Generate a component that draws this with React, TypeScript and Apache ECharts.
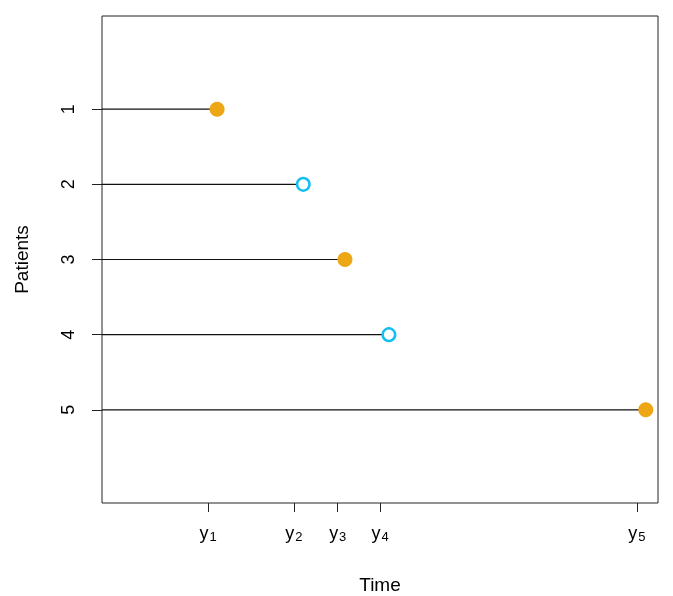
import React, { useEffect, useRef } from "react";
import * as echarts from "echarts";

const patients = [1, 2, 3, 4, 5];
const times = [2.07, 3.62, 4.37, 5.16, 9.78];
const status = [1, 0, 1, 0, 1]; // 1 = event (filled), 0 = censored (open)
const tickPositions = [1.91, 3.45, 4.24, 5.0, 9.62];
const tickSubs = ["1", "2", "3", "4", "5"];

const ORANGE = "#EDA614";
const BLUE = "#12BEF2";
const FONT = "Liberation Sans, Arial, sans-serif";

export default function App() {
  const ref = useRef<HTMLDivElement>(null);
  useEffect(() => {
    if (!ref.current) return;
    const chart = echarts.init(ref.current, null, { renderer: "svg" });
    const eventData = patients
      .map((p, i) => (status[i] === 1 ? [times[i], p] : null))
      .filter((d) => d !== null);
    const censData = patients
      .map((p, i) => (status[i] === 0 ? [times[i], p] : null))
      .filter((d) => d !== null);
    const lineData = patients.map((p, i) => [times[i], p]);
    chart.setOption({
      animation: false,
      textStyle: { fontFamily: FONT },
      grid: {
        left: 102,
        top: 16,
        right: 15,
        bottom: 93,
        outerBoundsMode: "none",
        containLabel: false,
        show: true,
        borderColor: "#222",
        borderWidth: 1,
        backgroundColor: "transparent",
      },
      xAxis: {
        type: "value",
        min: 0,
        max: 10,
        name: "Time",
        nameLocation: "middle",
        nameGap: 72,
        nameTextStyle: { fontSize: 19, color: "#000", fontFamily: FONT },
        axisLine: { show: false, onZero: false },
        splitLine: { show: false },
        axisTick: {
          show: true,
          length: 9,
          lineStyle: { color: "#222" },
          customValues: tickPositions,
        },
        axisLabel: {
          margin: 19,
          color: "#000",
          customValues: tickPositions,
          formatter: (v: number) => {
            let best = 0;
            let bd = Infinity;
            tickPositions.forEach((t, i) => {
              const d = Math.abs(t - v);
              if (d < bd) {
                bd = d;
                best = i;
              }
            });
            return "{n|y}{s|" + tickSubs[best] + "}";
          },
          rich: {
            n: { fontSize: 18, color: "#000", fontFamily: FONT },
            s: {
              fontSize: 13,
              color: "#000",
              fontFamily: FONT,
              padding: [8, 0, 0, 1],
            },
          },
        },
      },
      yAxis: {
        type: "value",
        inverse: true,
        min: -0.24,
        max: 6.24,
        name: "Patients",
        nameLocation: "middle",
        nameGap: 71,
        nameRotate: 90,
        nameTextStyle: { fontSize: 19, color: "#000", fontFamily: FONT },
        axisLine: { show: false, onZero: false },
        splitLine: { show: false },
        axisTick: {
          show: true,
          length: 10,
          lineStyle: { color: "#222" },
          customValues: patients,
        },
        axisLabel: {
          rotate: 90,
          margin: 25,
          fontSize: 18,
          color: "#000",
          customValues: patients,
          formatter: (v: number) => String(Math.round(v)),
        },
      },
      series: [
        {
          type: "custom",
          data: lineData,
          encode: { x: 0, y: 1 },
          renderItem: (params: any, api: any) => {
            const y = api.value(1);
            const s = api.coord([0, y]);
            const e = api.coord([api.value(0), y]);
            return {
              type: "line",
              shape: { x1: s[0], y1: s[1], x2: e[0], y2: e[1] },
              style: { stroke: "#111", lineWidth: 1.2 },
            };
          },
          z: 1,
        },
        {
          type: "scatter",
          data: eventData,
          symbol: "circle",
          symbolSize: 15,
          itemStyle: { color: ORANGE, opacity: 1 },
          z: 3,
        },
        {
          type: "scatter",
          data: censData,
          symbol: "circle",
          symbolSize: 12.5,
          itemStyle: { color: "#fff", borderColor: BLUE, borderWidth: 2.5, opacity: 1 },
          z: 3,
        },
      ],
    });
    return () => chart.dispose();
  }, []);
  return (
    <div
      ref={ref}
      style={{ position: "fixed", left: 0, top: 0, width: 673, height: 596 }}
    />
  );
}
